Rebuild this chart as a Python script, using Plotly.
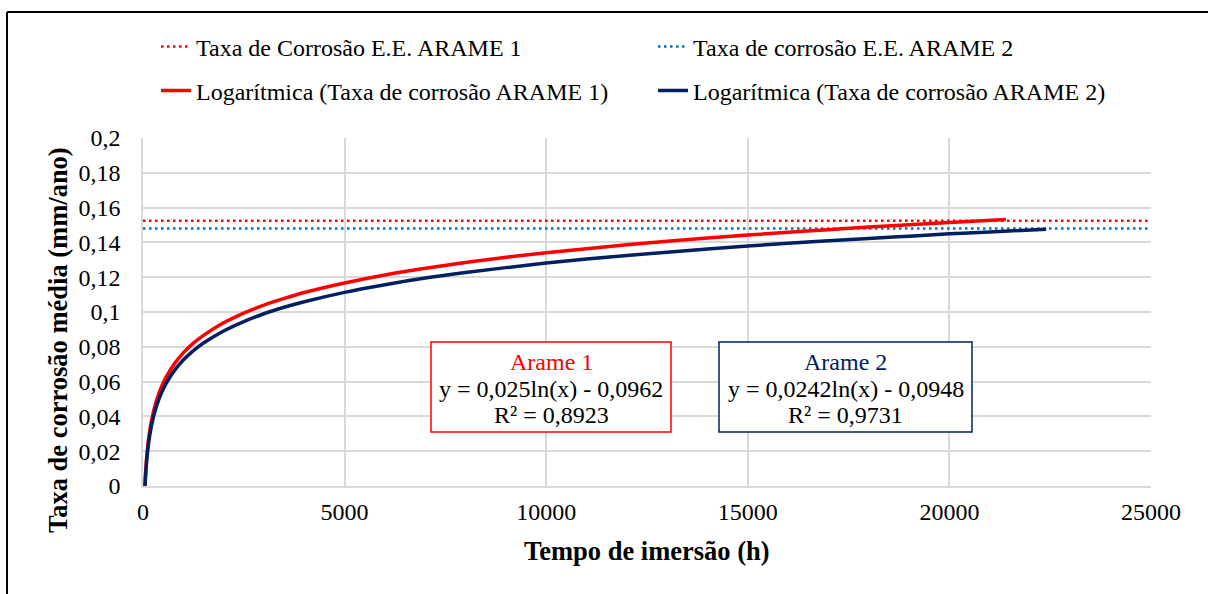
import plotly.graph_objects as go

# ---- data ----
x_arame1 = [47, 55, 65, 80, 100, 125, 150, 200, 250, 300, 400, 500, 600, 800, 1000, 1250,
            1500, 2000, 2500, 3000, 3500, 4000, 5000, 6000, 7000, 8000, 9000, 10000, 11000,
            12000, 13000, 14000, 15000, 16000, 17000, 18000, 19000, 20000, 21400]
y_arame1 = [0.0000, 0.0040, 0.0082, 0.0134, 0.0189, 0.0245, 0.0291, 0.0363, 0.0418, 0.0464,
            0.0536, 0.0592, 0.0637, 0.0709, 0.0765, 0.0821, 0.0866, 0.0938, 0.0994, 0.1040,
            0.1078, 0.1112, 0.1167, 0.1213, 0.1251, 0.1285, 0.1314, 0.1341, 0.1364, 0.1386,
            0.1406, 0.1425, 0.1442, 0.1458, 0.1473, 0.1488, 0.1501, 0.1514, 0.1531]
x_arame2 = [50, 55, 65, 80, 100, 125, 150, 200, 250, 300, 400, 500, 600, 800, 1000, 1250,
            1500, 2000, 2500, 3000, 3500, 4000, 5000, 6000, 7000, 8000, 9000, 10000, 11000,
            12000, 13000, 14000, 15000, 16000, 17000, 18000, 19000, 20000, 21000, 22400]
y_arame2 = [0.0000, 0.0022, 0.0062, 0.0112, 0.0166, 0.0220, 0.0265, 0.0334, 0.0388, 0.0432,
            0.0502, 0.0556, 0.0600, 0.0670, 0.0724, 0.0778, 0.0822, 0.0891, 0.0945, 0.0990,
            0.1027, 0.1059, 0.1113, 0.1157, 0.1195, 0.1227, 0.1255, 0.1281, 0.1304, 0.1325,
            0.1344, 0.1362, 0.1379, 0.1395, 0.1409, 0.1423, 0.1436, 0.1449, 0.1460, 0.1476]
x_ref_line = [0, 25000]
taxa_ee_arame1 = 0.1525
taxa_ee_arame2 = 0.148

x_tickvals = [0, 5000, 10000, 15000, 20000, 25000]
x_ticktext = ["0", "5000", "10000", "15000", "20000", "25000"]
y_tickvals = [0, 0.02, 0.04, 0.06, 0.08, 0.1, 0.12, 0.14, 0.16, 0.18, 0.2]
y_ticktext = ["0", "0,02", "0,04", "0,06", "0,08", "0,1", "0,12", "0,14", "0,16", "0,18", "0,2"]

names = ["Taxa de Corrosão E.E. ARAME 1", "Taxa de corrosão E.E. ARAME 2",
         "Logarítmica (Taxa de corrosão ARAME 1)", "Logarítmica (Taxa de corrosão ARAME 2)"]

RED = "#FF0000"
NAVY = "#002060"
BLUE = "#0070C0"
FONT = "Times New Roman, Liberation Serif, serif"
FS = 24

fig = go.Figure()
fig.add_trace(go.Scatter(x=x_ref_line, y=[taxa_ee_arame1] * 2, mode="lines", name=names[0],
                         line=dict(color=RED, width=2.5, dash="2.5px,3.5px"), legend="legend"))
fig.add_trace(go.Scatter(x=x_ref_line, y=[taxa_ee_arame2] * 2, mode="lines", name=names[1],
                         line=dict(color=BLUE, width=2.5, dash="2.5px,3.5px"), legend="legend"))
fig.add_trace(go.Scatter(x=x_arame1, y=y_arame1, mode="lines", name=names[2],
                         line=dict(color=RED, width=3.5, shape="spline", smoothing=1.0),
                         legend="legend2"))
fig.add_trace(go.Scatter(x=x_arame2, y=y_arame2, mode="lines", name=names[3],
                         line=dict(color=NAVY, width=3.5, shape="spline", smoothing=1.0),
                         legend="legend2"))

L, R, T, B = 143, 57, 138, 108
W, H = 1208, 594
PW, PH = W - L - R, H - T - B


def px(xp):
    return (xp - L) / PW


def py(yp):
    return (H - B - yp) / PH


legend_common = dict(orientation="h", xanchor="left", yanchor="middle",
                     entrywidth=452, entrywidthmode="pixels",
                     font=dict(family=FONT, size=FS, color="black"),
                     bgcolor="rgba(0,0,0,0)", borderwidth=0, traceorder="normal")

fig.update_layout(
    width=W, height=H,
    margin=dict(l=L, r=R, t=T, b=B, pad=0),
    paper_bgcolor="white", plot_bgcolor="white",
    font=dict(family=FONT, size=FS, color="black"),
    showlegend=True,
    legend=dict(x=px(156), y=py(47), **legend_common),
    legend2=dict(x=px(156), y=py(91), **legend_common),
    xaxis=dict(range=[0, 25000], tickvals=x_tickvals, ticktext=x_ticktext,
               showgrid=True, gridcolor="#D9D9D9", gridwidth=1.5,
               showline=True, linecolor="#D9D9D9", linewidth=1.5, mirror=False,
               zeroline=False, ticks="", ticklabelstandoff=3,
               tickfont=dict(family=FONT, size=FS, color="black")),
    yaxis=dict(range=[0, 0.2], tickvals=y_tickvals, ticktext=y_ticktext,
               showgrid=True, gridcolor="#D9D9D9", gridwidth=1.5,
               showline=True, linecolor="#D9D9D9", linewidth=1.5,
               zeroline=False, ticks="", ticklabelstandoff=16,
               tickfont=dict(family=FONT, size=FS, color="black")),
)

shapes = []
# outer frame (top and left edges visible)
shapes.append(dict(type="line", xref="paper", yref="paper", x0=px(7), x1=px(1215),
                   y0=py(12), y1=py(12), line=dict(color="black", width=2)))
shapes.append(dict(type="line", xref="paper", yref="paper", x0=px(7), x1=px(7),
                   y0=py(12), y1=py(600), line=dict(color="black", width=2)))
# equation boxes
shapes.append(dict(type="rect", xref="paper", yref="paper", x0=px(431), x1=px(671),
                   y0=py(432), y1=py(342), line=dict(color=RED, width=1.5), fillcolor="white",
                   layer="above"))
shapes.append(dict(type="rect", xref="paper", yref="paper", x0=px(719), x1=px(972),
                   y0=py(432), y1=py(342), line=dict(color=NAVY, width=1.5), fillcolor="white",
                   layer="above"))
fig.update_layout(shapes=shapes)

annotations = []
box_texts = [
    (551, RED, ["Arame 1", "y = 0,025ln(x) - 0,0962", "R² = 0,8923"]),
    (845.5, NAVY, ["Arame 2", "y = 0,0242ln(x) - 0,0948", "R² = 0,9731"]),
]
rows_y = [362, 389, 415]
for cx, col, lines in box_texts:
    for i, (txt, ry) in enumerate(zip(lines, rows_y)):
        annotations.append(dict(xref="paper", yref="paper", x=px(cx), y=py(ry),
                                text=txt, showarrow=False, xanchor="center", yanchor="middle",
                                font=dict(family=FONT, size=FS, color=col if i == 0 else "black")))
# axis titles
annotations.append(dict(xref="paper", yref="paper", x=px(646.5), y=py(551),
                        text="<b>Tempo de imersão (h)</b>", showarrow=False,
                        xanchor="center", yanchor="middle",
                        font=dict(family=FONT, size=26.5, color="black")))
annotations.append(dict(xref="paper", yref="paper", x=px(58), y=py(340),
                        text="<b>Taxa de corrosão média (mm/ano)</b>", showarrow=False,
                        textangle=-90, xanchor="center", yanchor="middle",
                        font=dict(family=FONT, size=26.5, color="black")))
fig.update_layout(annotations=annotations)

fig.write_html("out.html")
